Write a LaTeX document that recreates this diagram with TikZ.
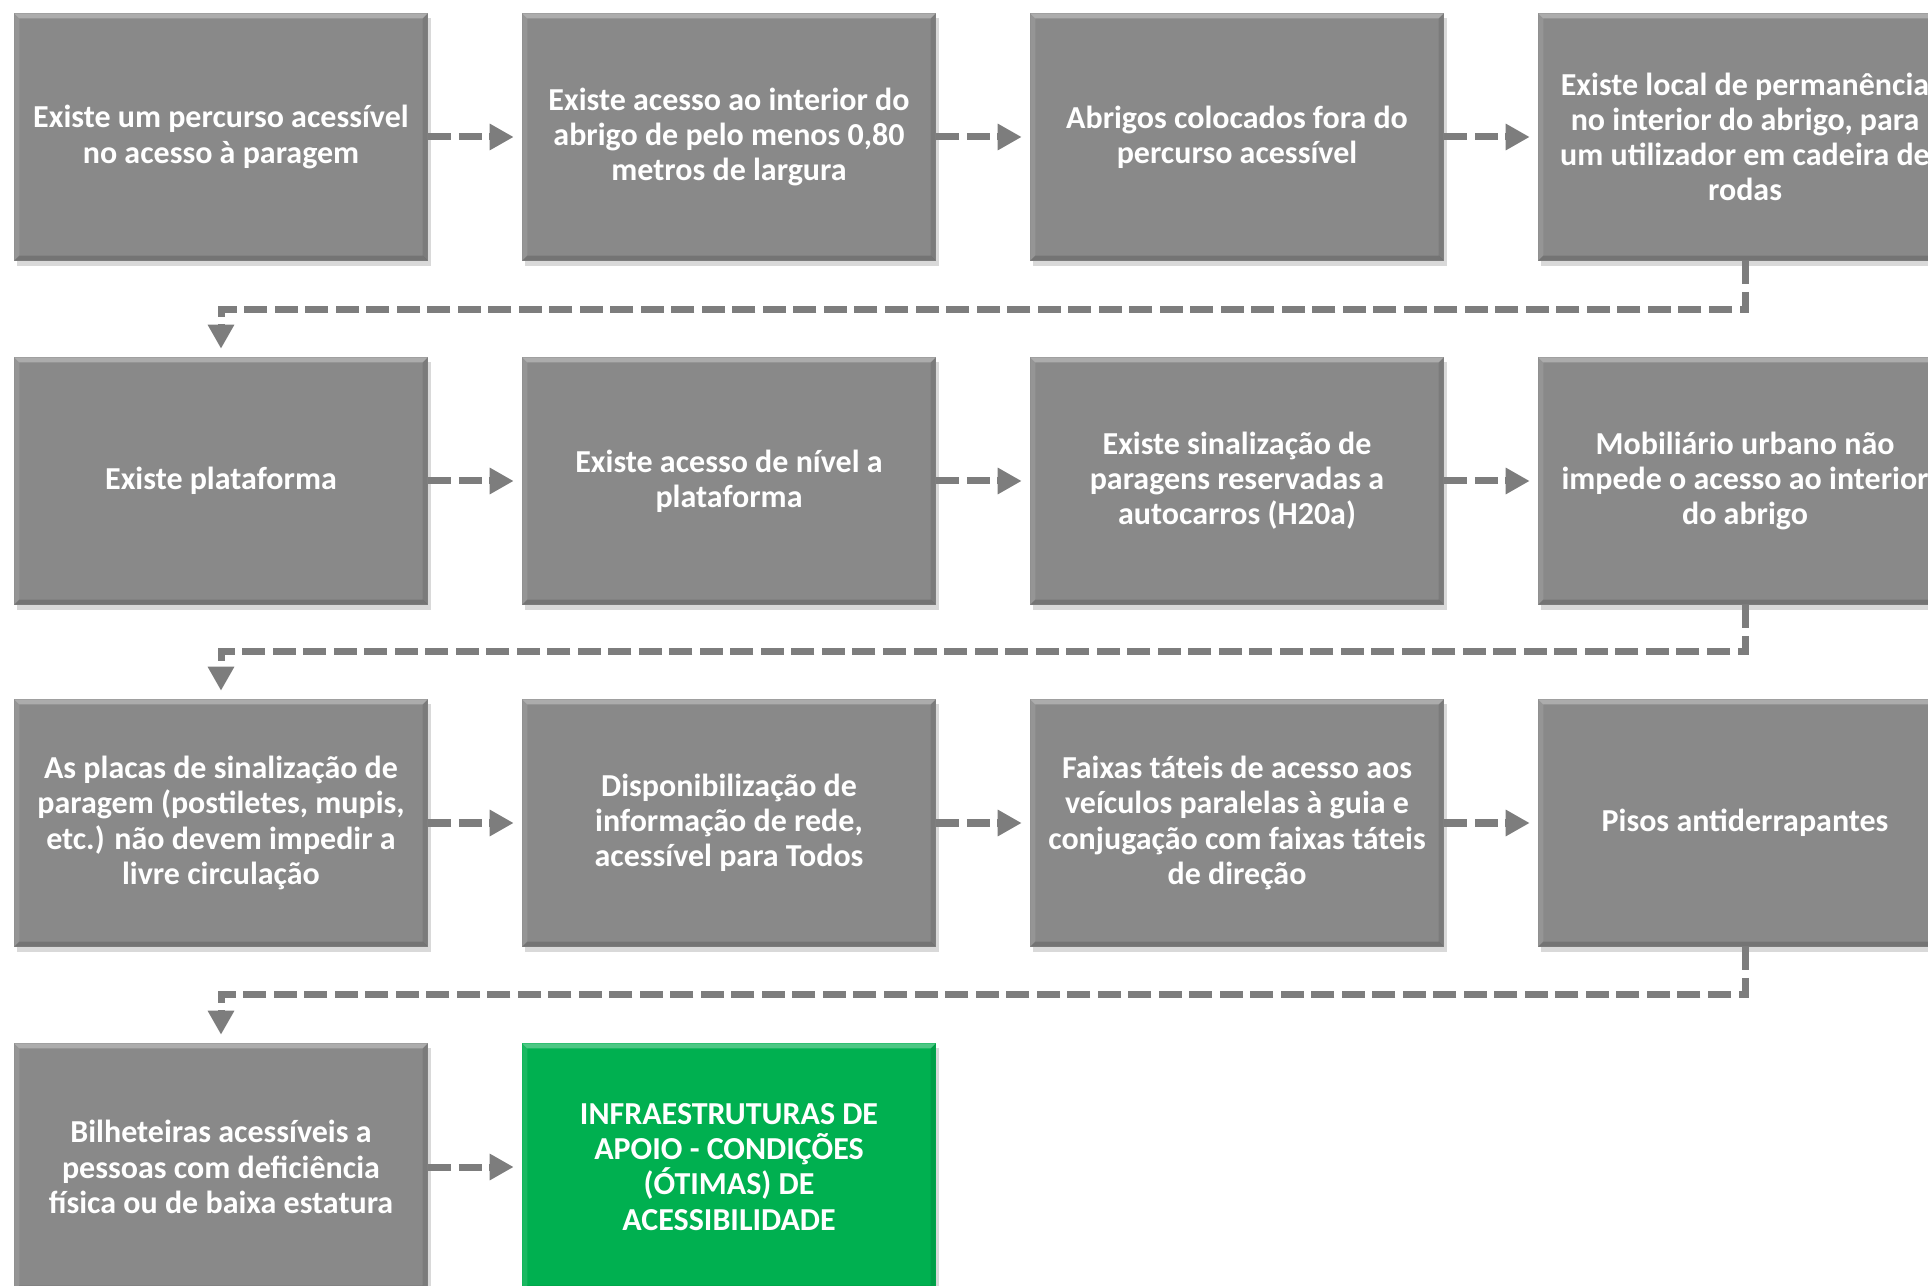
\documentclass[tikz,border=0pt]{standalone}
\usepackage{fontspec}
\setmainfont{Carlito}
\usetikzlibrary{arrows.meta,shadows}
\definecolor{boxgray}{RGB}{137,137,137}
\definecolor{boxgreen}{RGB}{0,176,80}
\definecolor{arrgray}{RGB}{125,125,125}

\begin{document}
\begin{tikzpicture}[x=0.01cm,y=-0.01cm,
        box/.style={rectangle,fill=boxgray,minimum width=4.13cm,minimum height=2.47cm,inner sep=0pt,
                text=white,align=center,font=\bfseries\fontsize{9.1}{10}\selectfont,
                drop shadow={shadow xshift=0.3mm,shadow yshift=-0.5mm,opacity=0.3},
                path picture={
                        \fill[white,opacity=.3](path picture bounding box.north west)--(path picture bounding box.north east)
                                --([shift={(-0.5mm,-0.5mm)}]path picture bounding box.north east)
                                --([shift={(0.5mm,-0.5mm)}]path picture bounding box.north west)--cycle;
                        \fill[white,opacity=.1](path picture bounding box.north west)--(path picture bounding box.south west)
                                --([shift={(0.5mm,0.5mm)}]path picture bounding box.south west)
                                --([shift={(0.5mm,-0.5mm)}]path picture bounding box.north west)--cycle;
                        \fill[black,opacity=.15](path picture bounding box.south west)--(path picture bounding box.south east)
                                --([shift={(-0.5mm,0.5mm)}]path picture bounding box.south east)
                                --([shift={(0.5mm,0.5mm)}]path picture bounding box.south west)--cycle;
                        \fill[black,opacity=.1](path picture bounding box.north east)--(path picture bounding box.south east)
                                --([shift={(-0.5mm,0.5mm)}]path picture bounding box.south east)
                                --([shift={(-0.5mm,-0.5mm)}]path picture bounding box.north east)--cycle;
                }},
        goal/.style={box,fill=boxgreen},
        conn/.style={arrgray,line width=0.7mm,dash pattern=on 2.3mm off 0.75mm,
                -{Triangle[length=2.4mm,width=2.5mm]},shorten >=0.8mm}]
        \useasboundingbox(0,0) rectangle (1928,1286);
        \clip(0,0) rectangle (1928,1286);
        % first row
        \node[box](a) at (221,137) {Existe um percurso acessível\\no acesso à paragem};
        \node[box](b) at (729,137) {Existe acesso ao interior do\\abrigo de pelo menos 0,80\\metros de largura};
        \node[box](c) at (1237,137) {Abrigos colocados fora do\\percurso acessível};
        \node[box](d) at (1745,137) {Existe local de permanência\\no interior do abrigo, para\\um utilizador em cadeira de\\rodas};
        % second row
        \node[box](e) at (221,481) {Existe plataforma};
        \node[box](f) at (729,481) {Existe acesso de nível a\\plataforma};
        \node[box](g) at (1237,481) {Existe sinalização de\\paragens reservadas a\\autocarros (H20a)};
        \node[box](h) at (1745,481) {Mobiliário urbano não\\impede o acesso ao interior\\do abrigo};
        % third row
        \node[box](i) at (221,823) {As placas de sinalização de\\paragem (postiletes, mupis,\\etc.) não devem impedir a\\livre circulação};
        \node[box](j) at (729,823) {Disponibilização de\\informação de rede,\\acessível para Todos};
        \node[box](k) at (1237,823) {Faixas táteis de acesso aos\\veículos paralelas à guia e\\conjugação com faixas táteis\\de direção};
        \node[box](l) at (1745,823) {Pisos antiderrapantes};
        % last row
        \node[box](m) at (221,1167) {Bilheteiras acessíveis a\\pessoas com deficiência\\física ou de baixa estatura};
        \node[goal](n) at (729,1167) {INFRAESTRUTURAS DE\\APOIO - CONDIÇÕES\\(ÓTIMAS) DE\\ACESSIBILIDADE};
        \draw[conn](a)--(b);
        \draw[conn](b)--(c);
        \draw[conn](c)--(d);
        \draw[conn](d.south)--++(0,48)-|(e.north);
        \draw[conn](e)--(f);
        \draw[conn](f)--(g);
        \draw[conn](g)--(h);
        \draw[conn](h.south)--++(0,46)-|(i.north);
        \draw[conn](i)--(j);
        \draw[conn](j)--(k);
        \draw[conn](k)--(l);
        \draw[conn](l.south)--++(0,47)-|(m.north);
        \draw[conn](m)--(n);
\end{tikzpicture}
\end{document}
